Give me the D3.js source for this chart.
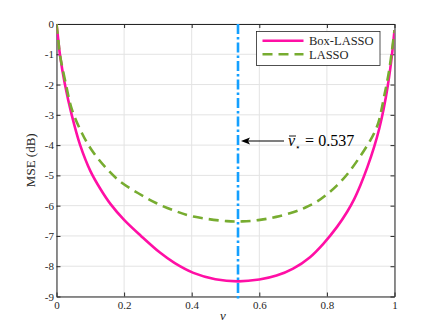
<!doctype html>
<html lang="en">
<head>
  <meta charset="utf-8">
  <title>MSE vs nu</title>
  <script src="https://d3js.org/d3.v7.min.js"></script>
  <style>
    body { margin: 0; background: #fff; }
    svg text { font-family: "Liberation Serif", "Times New Roman", Tinos, "DejaVu Serif", "Noto Serif", Times, serif; fill: #262626; }
  </style>
</head>
<body>
  <div class="canva"></div>
  <script>

    // data
    let nu_box = [0, 0.005, 0.010, 0.025, 0.045, 0.07, 0.10, 0.13, 0.16, 0.20, 0.25, 0.306, 0.35, 0.405, 0.47, 0.537, 0.60, 0.651, 0.70, 0.75, 0.79, 0.83, 0.86, 0.88, 0.90, 0.92, 0.94, 0.955, 0.968, 0.98, 0.99, 0.996, 1.0]
    let mse_box = [0, -0.5, -1.0, -2.0, -3.0, -4.0, -4.85, -5.45, -5.95, -6.47, -7.0, -7.55, -7.9, -8.22, -8.43, -8.5, -8.44, -8.31, -8.08, -7.7, -7.25, -6.7, -6.2, -5.8, -5.3, -4.72, -4.05, -3.45, -2.8, -2.05, -1.25, -0.65, -0.2]

    let nu_lasso = [0, 0.005, 0.010, 0.028, 0.045, 0.075, 0.104, 0.143, 0.188, 0.242, 0.296, 0.35, 0.405, 0.504, 0.55, 0.602, 0.65, 0.70, 0.735, 0.77, 0.804, 0.83, 0.859, 0.898, 0.928, 0.94, 0.952, 0.962, 0.970, 0.977, 0.985, 0.992, 1.0]
    let mse_lasso = [0, -0.5, -1.0, -2.0, -2.8, -3.6, -4.16, -4.71, -5.2, -5.59, -5.92, -6.17, -6.36, -6.51, -6.52, -6.47, -6.37, -6.22, -6.07, -5.87, -5.59, -5.33, -4.98, -4.38, -3.85, -3.6, -3.27, -2.8, -2.35, -1.98, -1.47, -0.92, -0.2]

    let x_ticks = [0, 0.2, 0.4, 0.6, 0.8, 1]
    let y_ticks = [0, -1, -2, -3, -4, -5, -6, -7, -8, -9]
    let nu_star = 0.537

    const W = 436, H = 333;
    const pLeft = 56.5, pRight = 394.5, pTop = 24, pBottom = 296.5;
    const axisColor = "#262626";
    const serif = "'Liberation Serif', 'Times New Roman', Tinos, 'DejaVu Serif', 'Noto Serif', Times, serif";

    const x = d3.scaleLinear().domain([0, 1]).range([pLeft, pRight]);
    const y = d3.scaleLinear().domain([-9, 0]).range([pBottom, pTop]);

    const svg = d3.select(".canva").append("svg")
      .attr("width", W)
      .attr("height", H);

    svg.append("rect").attr("width", W).attr("height", H).attr("fill", "#fff");

    svg.append("clipPath").attr("id", "plotclip")
      .append("rect")
      .attr("x", pLeft).attr("y", pTop)
      .attr("width", pRight - pLeft).attr("height", pBottom - pTop);

    // grid
    const grid = svg.append("g").attr("stroke", "#e3e3e3").attr("stroke-width", 1);
    x_ticks.forEach(function (t) {
      grid.append("line").attr("x1", x(t)).attr("x2", x(t)).attr("y1", pTop).attr("y2", pBottom);
    });
    y_ticks.forEach(function (t) {
      grid.append("line").attr("x1", pLeft).attr("x2", pRight).attr("y1", y(t)).attr("y2", y(t));
    });

    // axes (d3 axes, inner ticks, box)
    const fmt = function (d) { return d === 0 ? "0" : String(d).replace("\u2212", "-"); };

    const xBottom = svg.append("g").attr("transform", "translate(0," + pBottom + ")")
      .call(d3.axisBottom(x).tickValues(x_ticks).tickSizeInner(-4).tickSizeOuter(0).tickPadding(8).tickFormat(fmt));
    const xTop = svg.append("g").attr("transform", "translate(0," + pTop + ")")
      .call(d3.axisTop(x).tickValues(x_ticks).tickSizeInner(-4).tickSizeOuter(0).tickFormat(""));
    const yLeft = svg.append("g").attr("transform", "translate(" + pLeft + ",0)")
      .call(d3.axisLeft(y).tickValues(y_ticks).tickSizeInner(-4).tickSizeOuter(0).tickPadding(6).tickFormat(fmt));
    const yRight = svg.append("g").attr("transform", "translate(" + pRight + ",0)")
      .call(d3.axisRight(y).tickValues(y_ticks).tickSizeInner(-4).tickSizeOuter(0).tickFormat(""));

    [xBottom, xTop, yLeft, yRight].forEach(function (g) {
      g.attr("font-family", serif);
      g.selectAll("path.domain").attr("stroke", axisColor);
      g.selectAll(".tick line").attr("stroke", axisColor);
      g.selectAll(".tick text")
        .attr("fill", axisColor)
        .style("font-family", serif)
        .style("font-size", "11px");
    });
    xBottom.selectAll(".tick text").attr("dy", "0.71em").attr("y", 4.5);
    yLeft.selectAll(".tick text").attr("x", -2.5);

    // axis labels
    svg.append("text")
      .attr("x", 223).attr("y", 320)
      .attr("text-anchor", "middle")
      .style("font-family", serif)
      .style("font-size", "13px")
      .style("font-style", "italic")
      .text("\u03bd");

    svg.append("text")
      .attr("transform", "translate(35," + ((pTop + pBottom) / 2) + ") rotate(-90)")
      .attr("text-anchor", "middle")
      .style("font-family", serif)
      .style("font-size", "13px")
      .text("MSE (dB)");

    // curves
    const plot = svg.append("g").attr("clip-path", "url(#plotclip)");

    const line = d3.line()
      .x(function (d) { return x(d[0]); })
      .y(function (d) { return y(d[1]); })
      .curve(d3.curveCatmullRom.alpha(0.5));

    const boxData = nu_box.map(function (v, i) { return [v, mse_box[i]]; });
    const lassoData = nu_lasso.map(function (v, i) { return [v, mse_lasso[i]]; });

    plot.append("path")
      .datum(boxData)
      .attr("d", line)
      .attr("fill", "none")
      .attr("stroke", "#ff0fa5")
      .attr("stroke-width", 2.6);

    plot.append("path")
      .datum(lassoData)
      .attr("d", line)
      .attr("fill", "none")
      .attr("stroke", "#77ac30")
      .attr("stroke-width", 2.6)
      .attr("stroke-dasharray", "10,6");

    // vertical dash-dot line at nu_star
    svg.append("line")
      .attr("x1", x(nu_star)).attr("x2", x(nu_star))
      .attr("y1", pTop).attr("y2", pBottom + 3)
      .attr("stroke", "#14a0ff")
      .attr("stroke-width", 2.6)
      .attr("stroke-dasharray", "10,3,2.5,3");

    // annotation arrow
    const ay = 141;
    svg.append("line")
      .attr("x1", 284).attr("x2", x(nu_star) + 8)
      .attr("y1", ay).attr("y2", ay)
      .attr("stroke", "#000").attr("stroke-width", 1.2);
    svg.append("path")
      .attr("d", "M" + (x(nu_star) + 3) + "," + ay + " L" + (x(nu_star) + 12) + "," + (ay - 3.5) +
        " L" + (x(nu_star) + 10) + "," + ay + " L" + (x(nu_star) + 12) + "," + (ay + 3.5) + " Z")
      .attr("fill", "#000");

    const ann = svg.append("text")
      .attr("x", 288).attr("y", 146)
      .style("font-family", serif)
      .style("font-size", "16px")
      .attr("fill", "#000");
    const nuSpan = ann.append("tspan").style("font-style", "italic").attr("fill", "#000").text("\u03bd");
    ann.append("tspan").attr("dy", 3.5).style("font-size", "9px").attr("fill", "#000").text("\u22c6");
    ann.append("tspan").attr("dy", -3.5).attr("fill", "#000").text(" = 0.537");
    // bar over nu
    const nb = nuSpan.node().getBBox();
    svg.append("line")
      .attr("x1", nb.x + 1).attr("x2", nb.x + nb.width)
      .attr("y1", nb.y + 4).attr("y2", nb.y + 4)
      .attr("stroke", "#000").attr("stroke-width", 0.9);

    // legend
    const lg = svg.append("g");
    lg.append("rect")
      .attr("x", 256.5).attr("y", 31.5)
      .attr("width", 123.5).attr("height", 34)
      .attr("fill", "#fff")
      .attr("stroke", axisColor)
      .attr("stroke-width", 0.8);
    lg.append("line")
      .attr("x1", 262.5).attr("x2", 303.5).attr("y1", 40.7).attr("y2", 40.7)
      .attr("stroke", "#ff0fa5").attr("stroke-width", 2.6);
    lg.append("line")
      .attr("x1", 262.5).attr("x2", 303.5).attr("y1", 54.3).attr("y2", 54.3)
      .attr("stroke", "#77ac30").attr("stroke-width", 2.6)
      .attr("stroke-dasharray", "10,6");
    lg.append("text").attr("x", 309).attr("y", 45).style("font-family", serif).style("font-size", "12.5px").text("Box-LASSO");
    lg.append("text").attr("x", 309).attr("y", 58.6).style("font-family", serif).style("font-size", "12.5px").text("LASSO");

  </script>
</body>
</html>
